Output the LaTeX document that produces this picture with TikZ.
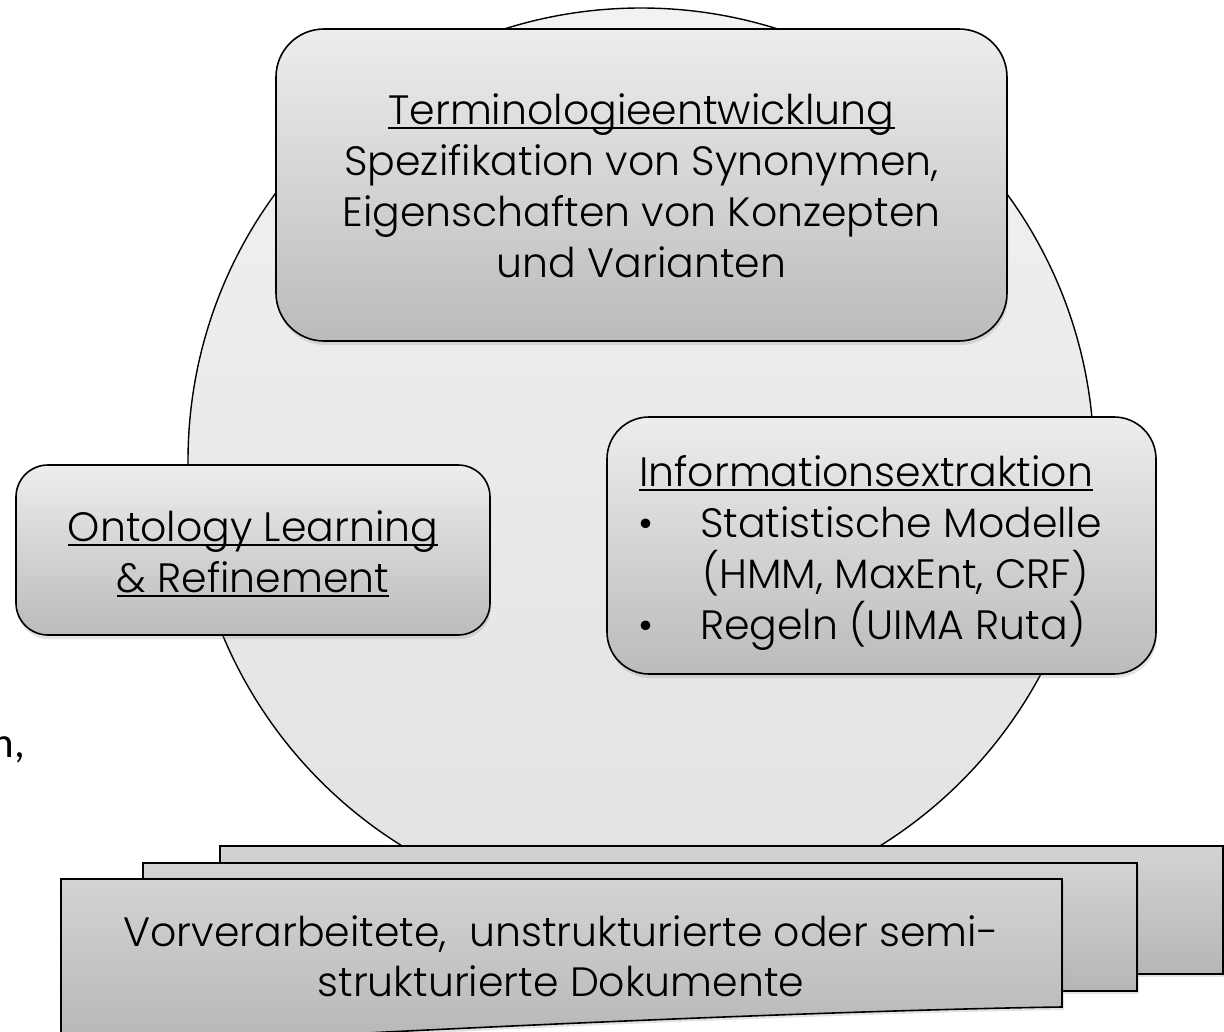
\documentclass[tikz,border=0pt]{standalone}
\usepackage{fontspec}
\setmainfont{Poppins Light}
\newfontfamily\calfont{Carlito}
\usetikzlibrary{shadows}
\definecolor{circtop}{HTML}{F2F2F2}
\definecolor{circbot}{HTML}{E2E2E2}
\definecolor{boxtop}{HTML}{EDEDED}
\definecolor{boxbot}{HTML}{BBBBBB}
\definecolor{doctop}{HTML}{D3D3D3}
\definecolor{docbot}{HTML}{B6B6B6}
\newcommand\ulx[1]{\setbox0\hbox{#1}\rlap{\rule[-4.5pt]{\wd0}{2pt}}\box0}
\tikzset{
  cyc/.style={circle, draw=black, line width=1.4pt, top color=circtop, bottom color=circbot, inner sep=0pt},
  rbox/.style={draw=black, line width=1.6pt, top color=boxtop, bottom color=boxbot, inner sep=0pt,
    drop shadow={shadow xshift=1pt, shadow yshift=-4pt, opacity=0.22}},
  docshape/.style={draw=black, line width=1.6pt, top color=doctop, bottom color=docbot,
    drop shadow={shadow xshift=2pt, shadow yshift=-3pt, opacity=0.22}},
  txt/.style={font=\fontsize{41}{51}\selectfont, inner sep=0pt, anchor=base},
  txtw/.style={txt, anchor=base west},
}
\begin{document}
\begin{tikzpicture}[x=1pt, y=-1pt]
\useasboundingbox (0,0) rectangle (1224,1032);
\clip (0,0) rectangle (1224,1032);
\fill[white] (0,0) rectangle (1224,1032);

% big circle
\node[cyc, minimum size=906pt] (circ) at (641,461) {};

% Terminologieentwicklung box
\node[rbox, rounded corners=48pt, minimum width=731pt, minimum height=312pt] (term) at (641.5,185) {};
\node[txt] (t1) at (641.5,125) {\ulx{Terminologieentwicklung}};
\node[txt] (t2) at (641.5,176) {Spezifikation von Synonymen,};
\node[txt] (t3) at (641.5,227) {Eigenschaften von Konzepten};
\node[txt] (t4) at (641.5,278) {und Varianten};

% Ontology Learning box
\node[rbox, rounded corners=32pt, minimum width=474pt, minimum height=170pt] (onto) at (253,550) {};
\node[txt] (o1) at (253,541) {\ulx{Ontology Learning}};
\node[txt] (o2) at (253,592) {\ulx{\& Refinement}};

% Informationsextraktion box
\node[rbox, rounded corners=42pt, minimum width=549pt, minimum height=257pt] (info) at (881.5,545.5) {};
\node[txtw] (i1) at (639,486) {\ulx{Informationsextraktion}};
\node[txt] (b1) at (646,537) {•};
\node[txtw] (i2) at (700,537) {Statistische Modelle};
\node[txtw] (i3) at (702,588) {(HMM, MaxEnt, CRF)};
\node[txt] (b2) at (646,639) {•};
\node[txtw] (i4) at (700,639) {Regeln (UIMA Ruta)};

% stacked documents
\path[docshape] (220,846) rectangle (1223,974);
\path[docshape] (143,863) rectangle (1137,991);
\path[docshape] (61,879) -- (1062,879) -- (1062,1007)
   .. controls (850,1010) and (420,1028) .. (61,1050) -- cycle;
\node[txt] (d1) at (561,946) {Vorverarbeitete,\ \ unstrukturierte oder semi-};
\node[txt] (d2) at (561,996) {strukturierte Dokumente};

% cut-off text at left
\node[inner sep=0pt, anchor=base east, font=\calfont\fontsize{43}{51}\selectfont] (nfrag) at (25,757) {n,};
\end{tikzpicture}
\end{document}
